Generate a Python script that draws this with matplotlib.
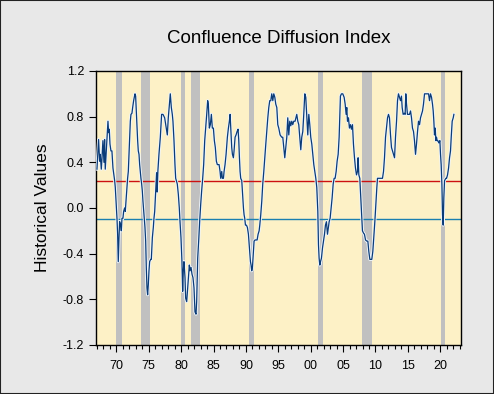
import numpy as np
import matplotlib.pyplot as plt
import matplotlib.patheffects as pe
from matplotlib.patches import Rectangle
from matplotlib.ticker import MultipleLocator, FixedLocator

# index readings (decimal year, value)
years_a = [1967.01, 1967.16, 1967.26, 1967.42, 1967.52, 1967.68, 1967.78, 1967.93, 1968.09, 1968.19,
           1968.29, 1968.45, 1968.60, 1968.71, 1968.81, 1968.91, 1969.02, 1969.17, 1969.32, 1969.48,
           1969.63, 1969.74, 1969.84, 1969.99, 1970.10, 1970.20, 1970.30, 1970.41, 1970.51, 1970.66,
           1970.77, 1970.87, 1971.02, 1971.13, 1971.28, 1971.38, 1971.49, 1971.64, 1971.74, 1971.85,
           1971.95, 1972.05, 1972.16, 1972.26, 1972.41, 1972.52, 1972.67, 1972.77, 1972.88, 1972.98,
           1973.08, 1973.19, 1973.29, 1973.39, 1973.50, 1973.60, 1973.70, 1973.80, 1973.91, 1974.01,
           1974.11, 1974.27, 1974.42, 1974.53, 1974.63, 1974.73, 1974.83, 1974.94, 1975.04, 1975.14,
           1975.30, 1975.40, 1975.56, 1975.71, 1975.81, 1975.92, 1976.02, 1976.12, 1976.22]
vals_a = [0.34, 0.50, 0.60, 0.41, 0.47, 0.34, 0.43, 0.59, 0.40, 0.60,
          0.34, 0.50, 0.64, 0.76, 0.66, 0.69, 0.56, 0.50, 0.50, 0.35,
          0.29, 0.24, 0.18, 0.03, -0.09, -0.23, -0.47, -0.26, -0.12, -0.15,
          -0.20, -0.09, -0.09, -0.03, 0.00, -0.03, 0.06, 0.18, 0.26, 0.32,
          0.47, 0.62, 0.76, 0.82, 0.83, 0.88, 0.94, 0.97, 1.00, 0.98,
          0.85, 0.70, 0.59, 0.50, 0.47, 0.38, 0.32, 0.26, 0.21, 0.15,
          0.06, -0.06, -0.17, -0.29, -0.53, -0.70, -0.76, -0.67, -0.55, -0.47,
          -0.45, -0.45, -0.26, -0.17, -0.09, -0.03, 0.09, 0.21, 0.31]

years_b = [1976.30, 1976.42, 1976.58, 1976.79, 1976.99, 1977.20, 1977.46, 1977.71, 1977.87, 1978.02,
           1978.23, 1978.33, 1978.49, 1978.64, 1978.74, 1978.90, 1979.05, 1979.16, 1979.26, 1979.41,
           1979.57, 1979.72, 1979.83, 1979.98, 1980.13, 1980.24, 1980.34, 1980.44, 1980.60, 1980.70,
           1980.86, 1981.01, 1981.11, 1981.27, 1981.37, 1981.53, 1981.68, 1981.83, 1981.99, 1982.14,
           1982.30, 1982.40, 1982.56, 1982.71, 1982.86, 1983.02, 1983.17, 1983.33, 1983.48, 1983.64,
           1983.79, 1983.95, 1984.10, 1984.20, 1984.36, 1984.51, 1984.67, 1984.82, 1984.98, 1985.13,
           1985.28, 1985.44, 1985.59]
vals_b = [0.14, 0.33, 0.47, 0.62, 0.82, 0.82, 0.79, 0.70, 0.64, 0.79,
          0.94, 1.00, 0.88, 0.82, 0.76, 0.59, 0.38, 0.26, 0.24, 0.21,
          0.12, 0.00, -0.12, -0.26, -0.47, -0.73, -0.55, -0.47, -0.61, -0.79,
          -0.82, -0.70, -0.61, -0.50, -0.55, -0.52, -0.58, -0.61, -0.70, -0.91,
          -0.93, -0.82, -0.44, -0.29, -0.12, 0.03, 0.15, 0.26, 0.38, 0.59,
          0.70, 0.82, 0.94, 0.91, 0.70, 0.73, 0.82, 0.70, 0.70, 0.59,
          0.53, 0.41, 0.38]

years_c = [1985.86, 1986.01, 1986.11, 1986.27, 1986.37, 1986.53, 1986.63, 1986.78, 1986.94, 1987.14,
           1987.30, 1987.45, 1987.56, 1987.66, 1987.81, 1987.92, 1988.07, 1988.17, 1988.33, 1988.48,
           1988.64, 1988.79, 1988.90, 1989.00, 1989.10, 1989.20, 1989.36, 1989.46, 1989.62, 1989.72,
           1989.82, 1989.93, 1990.08, 1990.23, 1990.39, 1990.54, 1990.70, 1990.80, 1990.90, 1991.01,
           1991.16, 1991.26, 1991.42, 1991.57, 1991.73, 1991.88, 1992.04, 1992.14, 1992.29, 1992.45,
           1992.60, 1992.76, 1992.91, 1993.07, 1993.22, 1993.38, 1993.53, 1993.68, 1993.84, 1993.99,
           1994.15, 1994.30, 1994.46, 1994.61, 1994.77, 1994.92, 1995.07]
vals_c = [0.38, 0.32, 0.26, 0.32, 0.26, 0.26, 0.32, 0.38, 0.47, 0.62,
          0.70, 0.76, 0.82, 0.70, 0.53, 0.47, 0.44, 0.50, 0.62, 0.64,
          0.67, 0.69, 0.59, 0.44, 0.32, 0.26, 0.24, 0.15, 0.00, -0.06,
          -0.09, -0.15, -0.15, -0.17, -0.23, -0.35, -0.47, -0.50, -0.55, -0.52,
          -0.38, -0.29, -0.28, -0.28, -0.28, -0.23, -0.20, -0.15, -0.06, 0.06,
          0.21, 0.32, 0.44, 0.56, 0.67, 0.79, 0.88, 0.94, 0.94, 1.00,
          0.94, 1.00, 0.97, 0.91, 0.88, 0.73, 0.70]

years_d = [1995.28, 1995.53, 1995.69, 1995.84, 1996.00, 1996.15, 1996.31, 1996.46, 1996.62, 1996.77,
           1996.93, 1997.08, 1997.23, 1997.39, 1997.59, 1997.85, 1998.01, 1998.16, 1998.32, 1998.47,
           1998.62, 1998.78, 1998.93, 1999.09, 1999.24, 1999.40, 1999.55, 1999.71, 1999.86, 2000.01,
           2000.17, 2000.32, 2000.48, 2000.63, 2000.79, 2000.94, 2001.10, 2001.20, 2001.30, 2001.41,
           2001.51, 2001.66, 2001.82, 2001.97, 2002.13, 2002.28, 2002.43, 2002.59, 2002.74, 2002.85,
           2003.00, 2003.16, 2003.31, 2003.47, 2003.62, 2003.77, 2003.93, 2004.08, 2004.24, 2004.39,
           2004.49]
vals_d = [0.64, 0.62, 0.62, 0.53, 0.44, 0.53, 0.62, 0.79, 0.64, 0.76,
          0.72, 0.76, 0.73, 0.76, 0.76, 0.82, 0.76, 0.73, 0.62, 0.51,
          0.62, 0.67, 0.82, 1.00, 0.97, 0.79, 0.64, 0.82, 0.73, 0.62,
          0.56, 0.47, 0.38, 0.32, 0.26, 0.18, -0.03, -0.32, -0.44, -0.50,
          -0.47, -0.44, -0.35, -0.29, -0.23, -0.15, -0.12, -0.23, -0.17, -0.12,
          -0.09, 0.00, 0.09, 0.21, 0.26, 0.26, 0.32, 0.41, 0.47, 0.62,
          0.79]

years_e = [2004.59, 2004.75, 2004.95, 2005.16, 2005.32, 2005.47, 2005.57, 2005.68, 2005.83, 2005.98,
           2006.14, 2006.29, 2006.45, 2006.60, 2006.76, 2006.91, 2007.07, 2007.22, 2007.32, 2007.43,
           2007.58, 2007.68, 2007.79, 2007.89, 2007.99, 2008.15, 2008.30, 2008.46, 2008.66, 2008.82,
           2008.97, 2009.13, 2009.28, 2009.43, 2009.59, 2009.74, 2009.90, 2010.05, 2010.21, 2010.31,
           2010.46, 2010.62, 2010.77, 2010.93, 2011.08, 2011.24, 2011.39, 2011.55, 2011.70, 2011.86,
           2012.01, 2012.16, 2012.32, 2012.47, 2012.63, 2012.78, 2012.94, 2013.09, 2013.25, 2013.40,
           2013.55, 2013.71, 2013.86]
vals_e = [0.98, 1.00, 1.00, 0.97, 0.91, 0.82, 0.88, 0.76, 0.79, 0.70,
          0.73, 0.69, 0.73, 0.56, 0.44, 0.35, 0.29, 0.32, 0.44, 0.29,
          0.26, 0.15, 0.03, -0.09, -0.20, -0.22, -0.23, -0.28, -0.29, -0.29,
          -0.38, -0.45, -0.45, -0.45, -0.38, -0.26, -0.12, 0.03, 0.18, 0.26,
          0.26, 0.26, 0.26, 0.26, 0.26, 0.32, 0.44, 0.62, 0.70, 0.79,
          0.82, 0.79, 0.64, 0.53, 0.50, 0.47, 0.44, 0.62, 0.76, 0.94,
          1.00, 0.97, 0.94]

years_f = [2014.01, 2014.12, 2014.27, 2014.43, 2014.58, 2014.68, 2014.79, 2014.94, 2015.10, 2015.25,
           2015.41, 2015.56, 2015.71, 2015.87, 2016.02, 2016.18, 2016.33, 2016.49, 2016.64, 2016.80,
           2016.95, 2017.10, 2017.26, 2017.41, 2017.57, 2017.72, 2017.88, 2018.03, 2018.19, 2018.34,
           2018.49, 2018.65, 2018.80, 2018.91, 2019.01, 2019.11, 2019.22, 2019.32, 2019.42, 2019.52,
           2019.63, 2019.78, 2019.94, 2020.04, 2020.14, 2020.25, 2020.35, 2020.45, 2020.55, 2020.66,
           2020.76, 2020.86, 2020.97, 2021.12, 2021.28, 2021.43, 2021.58, 2021.69, 2021.84, 2022.00,
           2022.10]
vals_f = [0.98, 0.88, 0.82, 0.83, 0.82, 1.00, 0.91, 0.82, 0.82, 0.82,
          0.85, 0.79, 0.70, 0.67, 0.59, 0.47, 0.56, 0.67, 0.76, 0.73,
          0.79, 0.82, 0.85, 0.91, 1.00, 1.00, 1.00, 1.00, 1.00, 0.94,
          1.00, 0.97, 0.91, 0.85, 0.76, 0.64, 0.70, 0.59, 0.62, 0.59,
          0.59, 0.57, 0.59, 0.47, 0.38, 0.21, -0.06, -0.15, 0.09, 0.24,
          0.25, 0.26, 0.26, 0.29, 0.35, 0.44, 0.50, 0.62, 0.76, 0.79,
          0.82]

# recession periods (start, end)
rec_start = [1969.92, 1973.85, 1980.0, 1981.5, 1990.5, 2001.17, 2007.92, 2020.1]
rec_end = [1970.88, 1975.2, 1980.55, 1982.88, 1991.2, 2001.88, 2009.45, 2020.8]

upper_line = 0.24
lower_line = -0.10

years = years_a + years_b + years_c + years_d + years_e + years_f
vals = vals_a + vals_b + vals_c + vals_d + vals_e + vals_f

plt.rcParams['font.family'] = ['Liberation Sans', 'DejaVu Sans']

fig = plt.figure(figsize=(4.94, 3.94), dpi=100)
fig.patch.set_facecolor('#e8e8e8')
fig.patches.append(Rectangle((0, 0), 1, 1, transform=fig.transFigure,
                             fill=False, edgecolor='#222222', linewidth=1.5))

ax = fig.add_axes([0.1943, 0.1244, 0.7389, 0.6954])
ax.set_facecolor('#fdf1c6')

for s, e in zip(rec_start, rec_end):
    ax.axvspan(s, e, color='#c0c0c0', lw=0, zorder=1)

ax.axhline(upper_line, color='#cc1111', lw=1.0, zorder=2)
ax.axhline(lower_line, color='#1a7fb0', lw=1.0, zorder=2)

ax.plot(years, vals, color='#0b3c78', lw=0.9, zorder=3,
        path_effects=[pe.Stroke(linewidth=2.2, foreground='#eef5fc'), pe.Normal()])

ax.set_xlim(1966.86, 2023.2)
ax.set_ylim(-1.2, 1.2)

ax.yaxis.set_major_locator(FixedLocator(np.arange(-1.2, 1.21, 0.4)))
ax.set_yticklabels([f'{v:.1f}' for v in np.arange(-1.2, 1.21, 0.4)])
ax.set_xticks(list(range(1970, 2021, 5)))
ax.set_xticklabels([f'{y % 100:02d}' for y in range(1970, 2021, 5)])
ax.xaxis.set_minor_locator(MultipleLocator(1))

ax.tick_params(axis='both', which='major', labelsize=9, direction='out', length=5, width=0.8, color='black')
ax.tick_params(axis='x', which='minor', direction='out', length=3, width=0.8)
ax.tick_params(axis='x', pad=6)

for sp in ax.spines.values():
    sp.set_color('black')
    sp.set_linewidth(1.0)

ax.set_title('Confluence Diffusion Index', fontsize=13.5, pad=20)
ax.set_ylabel('Historical Values', fontsize=12.5, labelpad=9)

fig.savefig('out.png', dpi=100, facecolor=fig.get_facecolor())
